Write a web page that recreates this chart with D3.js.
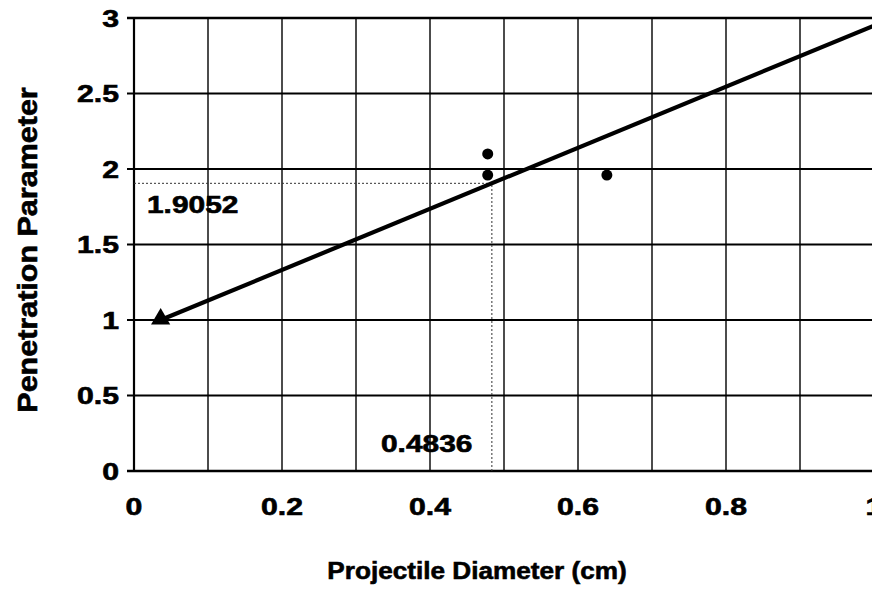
<!DOCTYPE html>
<html>
<head>
<meta charset="utf-8">
<script src="https://cdn.jsdelivr.net/npm/d3@7"></script>
<style>
  html, body { margin: 0; padding: 0; background: #fff; }
  svg { display: block; }
  text { font-family: "Liberation Sans", Arial, Helvetica, sans-serif; font-weight: bold; fill: #000; stroke: #000; stroke-width: 0.6px; }
</style>
</head>
<body>
<script>
// Axis ticks
const xTickValues = [0, 0.2, 0.4, 0.6, 0.8, 1];
const xTickLabels = ["0", "0.2", "0.4", "0.6", "0.8", "1"];
const xGridValues = [0.1, 0.2, 0.3, 0.4, 0.5, 0.6, 0.7, 0.8, 0.9];
const yTickValues = [0, 0.5, 1, 1.5, 2, 2.5, 3];
const yTickLabels = ["0", "0.5", "1", "1.5", "2", "2.5", "3"];

// Measured penetration (circles)
const testDiameter = [0.478, 0.478, 0.639];
const testPenetration = [2.10, 1.96, 1.96];

// Reference point (triangle)
const refDiameter = [0.036];
const refPenetration = [1.0];

// Interpolated point
const readDiameter = 0.4836;
const readPenetration = 1.9052;

// Fit line runs from the reference point through the read point to the edge
const fitStart = 0.036;
const fitEnd = 1.0;

const W = 872, H = 590;
const svg = d3.select("body").append("svg").attr("width", W).attr("height", H);

const x = d3.scaleLinear().domain([0, 1]).range([134, 874]);
const y = d3.scaleLinear().domain([0, 3]).range([471, 18]);

const slope = (readPenetration - refPenetration[0]) / (readDiameter - refDiameter[0]);
const fitY = d => refPenetration[0] + slope * (d - refDiameter[0]);

const TX = 1.26; // horizontal stretch of label glyphs

// Vertical grid lines
svg.append("g").selectAll("line").data(xGridValues).join("line")
  .attr("x1", d => x(d)).attr("x2", d => x(d))
  .attr("y1", y(3)).attr("y2", y(0))
  .attr("stroke", "#111").attr("stroke-width", 1.5);

// Horizontal grid lines with outward ticks
svg.append("g").selectAll("line").data(yTickValues).join("line")
  .attr("x1", x(0) - 7).attr("x2", x(1))
  .attr("y1", d => y(d)).attr("y2", d => y(d))
  .attr("stroke", "#000")
  .attr("stroke-width", d => (d === 3 || d === 0) ? 2.6 : 2);

// Left axis
svg.append("line")
  .attr("x1", x(0)).attr("x2", x(0)).attr("y1", y(3)).attr("y2", y(0))
  .attr("stroke", "#000").attr("stroke-width", 2.2);

// Dotted read-off lines
svg.append("line")
  .attr("x1", x(0)).attr("x2", x(readDiameter))
  .attr("y1", y(readPenetration)).attr("y2", y(readPenetration))
  .attr("stroke", "#333").attr("stroke-width", 1).attr("stroke-dasharray", "2,2");
svg.append("line")
  .attr("x1", x(readDiameter)).attr("x2", x(readDiameter))
  .attr("y1", y(0)).attr("y2", y(readPenetration))
  .attr("stroke", "#333").attr("stroke-width", 1).attr("stroke-dasharray", "2,2");

// Fit line
svg.append("line")
  .attr("x1", x(fitStart)).attr("y1", y(fitY(fitStart)))
  .attr("x2", x(fitEnd)).attr("y2", y(fitY(fitEnd)))
  .attr("stroke", "#000").attr("stroke-width", 4.2);

// Test points
svg.append("g").selectAll("circle").data(testDiameter).join("circle")
  .attr("cx", d => x(d)).attr("cy", (d, i) => y(testPenetration[i]))
  .attr("r", 5.5).attr("fill", "#000");

// Reference triangle
svg.append("g").selectAll("path").data(refDiameter).join("path")
  .attr("d", d3.symbol().type(d3.symbolTriangle).size(160))
  .attr("transform", (d, i) => `translate(${x(d)},${y(refPenetration[i]) - 1})`)
  .attr("fill", "#000");

// Text helper: glyphs drawn slightly wide
function stretchedText(g, tx, ty, str, size, anchor, sx) {
  g.append("text")
    .attr("transform", `translate(${tx},${ty}) scale(${sx},1)`)
    .attr("text-anchor", anchor)
    .style("font-size", size + "px")
    .text(str);
}

const labels = svg.append("g");
xTickValues.forEach((v, i) => stretchedText(labels, x(v), 515, xTickLabels[i], 24, "middle", TX));
yTickValues.forEach((v, i) => stretchedText(labels, 119, y(v) + 8.5, yTickLabels[i], 24, "end", TX));

// Read-off value labels
stretchedText(labels, 147, 213, d3.format(".4f")(readPenetration), 23, "start", 1.3);
stretchedText(labels, 381, 452, d3.format(".4f")(readDiameter), 23, "start", 1.3);

// Axis titles
stretchedText(labels, 477, 579, "Projectile Diameter (cm)", 24, "middle", 1.09);
svg.append("text")
  .attr("transform", "translate(37,250) rotate(-90) scale(1.13,1)")
  .attr("text-anchor", "middle")
  .style("font-size", "27px")
  .text("Penetration Parameter");
</script>
</body>
</html>
